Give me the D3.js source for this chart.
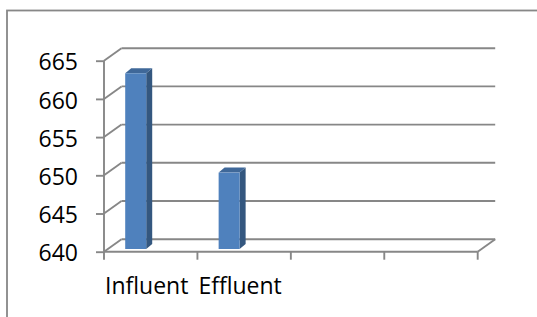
<!DOCTYPE html>
<html>
<head>
<meta charset="utf-8">
<script src="https://cdn.jsdelivr.net/npm/d3@7/dist/d3.min.js"></script>
<style>
  html, body { margin: 0; padding: 0; background: #fff; }
  svg { display: block; }
  text { font-family: "Open Sans", "DejaVu Sans", sans-serif; fill: #000; }
</style>
</head>
<body>
<svg id="chart" width="537" height="317"></svg>
<script>
// ---- data ----
const categories = ["Influent", "Effluent", "", ""];
const values = [663, 650, null, null];
const yTicks = [640, 645, 650, 655, 660, 665];

// ---- layout ----
const W = 537, H = 317;
const plot = { left: 104, right: 477.7, top: 60.7, bottom: 251.7 };
const DX = 17.5, DY = -12.5;          // depth of the 3D box
const barShiftY = -2.7;               // bar plane inside the depth
const barDX = 6, barDY = -5;          // bar depth
const grid = "#878787";
const sw = 1.9;

const svg = d3.select("#chart");

// outer frame (only left + top visible)
svg.append("rect")
  .attr("x", 7).attr("y", 10.5)
  .attr("width", W + 20).attr("height", H + 20)
  .attr("fill", "none").attr("stroke", grid).attr("stroke-width", 1.8);

const x = d3.scaleBand()
  .domain(d3.range(categories.length))
  .range([plot.left, plot.right])
  .paddingInner(0).paddingOuter(0);

const y = d3.scaleLinear()
  .domain([d3.min(yTicks), d3.max(yTicks)])
  .range([plot.bottom, plot.top]);

const g = svg.append("g");

// back wall gridlines
g.selectAll("line.grid").data(yTicks).enter().append("line")
  .attr("class", "grid")
  .attr("x1", plot.left + DX).attr("x2", plot.right + DX)
  .attr("y1", d => y(d) + DY).attr("y2", d => y(d) + DY)
  .attr("stroke", grid).attr("stroke-width", sw);

// side wall diagonals at each tick
g.selectAll("line.diag").data(yTicks).enter().append("line")
  .attr("x1", plot.left).attr("y1", d => y(d))
  .attr("x2", plot.left + DX).attr("y2", d => y(d) + DY)
  .attr("stroke", grid).attr("stroke-width", sw);

// floor right diagonal
g.append("line")
  .attr("x1", plot.right).attr("y1", y(yTicks[0]))
  .attr("x2", plot.right + DX).attr("y2", y(yTicks[0]) + DY)
  .attr("stroke", grid).attr("stroke-width", sw);

// y axis (front)
const yAxis = d3.axisLeft(y).tickValues(yTicks).tickSize(8).tickPadding(18)
  .tickFormat(d3.format("d"));
const ya = svg.append("g").attr("transform", `translate(${plot.left},0)`).call(yAxis);
ya.select(".domain").attr("stroke", grid).attr("stroke-width", sw)
  .attr("d", `M0,${plot.top}V${plot.bottom}`);
ya.selectAll(".tick line").attr("stroke", grid).attr("stroke-width", sw);
ya.selectAll(".tick text")
  .attr("font-family", '"Open Sans", sans-serif')
  .attr("font-size", 23).attr("fill", "#000").attr("dy", "0.4em");

// x axis (front)
const xTickScale = d3.scaleLinear().domain([0, categories.length]).range([plot.left, plot.right]);
const xa = svg.append("g").attr("transform", `translate(0,${plot.bottom})`);
xa.append("line").attr("x1", plot.left).attr("x2", plot.right)
  .attr("stroke", grid).attr("stroke-width", sw);
xa.selectAll("line.xt").data(d3.range(categories.length + 1)).enter().append("line")
  .attr("x1", d => xTickScale(d)).attr("x2", d => xTickScale(d))
  .attr("y1", 0).attr("y2", 8)
  .attr("stroke", grid).attr("stroke-width", sw);
xa.selectAll("text").data(categories).enter().append("text")
  .attr("x", (d, i) => x(i) + x.bandwidth() / 2 - 4)
  .attr("y", 42.8)
  .attr("text-anchor", "middle")
  .attr("font-size", 23)
  .text(d => d);

// bars
const bw = 21;
const bars = g.selectAll("g.bar")
  .data(values.map((v, i) => ({ v, i })).filter(d => d.v != null))
  .enter().append("g");

function geom(d) {
  const x0 = x(d.i) + x.bandwidth() * 0.227;
  const x1 = x0 + bw;
  const yt = y(d.v) + barShiftY;
  const yb = y(yTicks[0]) + barShiftY;
  return { x0, x1, yt, yb };
}
bars.append("polygon")
  .attr("points", d => { const b = geom(d);
    return [[b.x1, b.yt], [b.x1 + barDX, b.yt + barDY], [b.x1 + barDX, b.yb + barDY], [b.x1, b.yb]].join(" "); })
  .attr("fill", "#34577f");
bars.append("polygon")
  .attr("points", d => { const b = geom(d);
    return [[b.x0, b.yt], [b.x0 + barDX, b.yt + barDY], [b.x1 + barDX, b.yt + barDY], [b.x1, b.yt]].join(" "); })
  .attr("fill", "#3f6899");
bars.append("rect")
  .attr("x", d => geom(d).x0)
  .attr("y", d => geom(d).yt)
  .attr("width", bw)
  .attr("height", d => geom(d).yb - geom(d).yt)
  .attr("fill", "#4f81bd");
</script>
</body>
</html>
